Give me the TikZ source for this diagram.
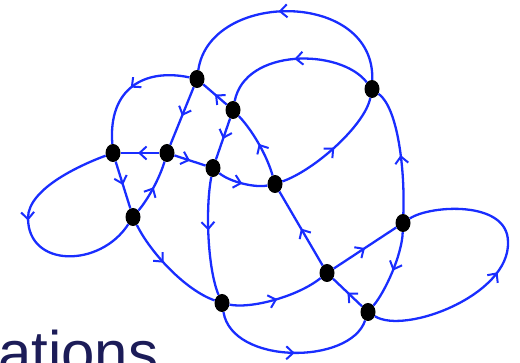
\documentclass[tikz,border=0pt]{standalone}
\usepackage{fontspec}
\newfontfamily\labelfont{Liberation Sans}
\usetikzlibrary{arrows.meta,decorations.markings,shapes.geometric}
\definecolor{wireblue}{RGB}{25,45,255}
\definecolor{textnavy}{RGB}{28,28,88}
\tikzset{
  vtx/.style={ellipse, fill=black, minimum width=15pt, minimum height=18pt, inner sep=0pt},
  bluewire/.style={draw=wireblue, line width=2.3pt},
  midarrow/.style={postaction={decorate}, decoration={markings,
      mark=at position #1 with {\arrow{Straight Barb[length=7pt,width=13pt,line width=2pt]}}}},
  midarrow/.default=0.5
}
\begin{document}
\begin{tikzpicture}[x=1pt,y=-1pt]
\useasboundingbox (0,0) rectangle (520,363);
% text
\node[anchor=base west, inner sep=0pt, text=textnavy, font=\labelfont\fontsize{60}{60}\selectfont] (txt) at (-2,374) {ations};
% vertices
\node[vtx] (A) at (197,79) {};
\node[vtx] (B) at (233,110) {};
\node[vtx] (C) at (372,89) {};
\node[vtx] (D) at (113,153) {};
\node[vtx] (E) at (167,153) {};
\node[vtx] (F) at (213,168) {};
\node[vtx] (G) at (275,184) {};
\node[vtx] (H) at (133,217) {};
\node[vtx] (I) at (403,223) {};
\node[vtx] (J) at (327,273) {};
\node[vtx] (K) at (222,303) {};
\node[vtx] (L) at (368,312) {};
% edges
\draw[bluewire, midarrow=0.55] (C) .. controls (375,-10) and (210,-10) .. (A);
\draw[bluewire, midarrow] (C) .. controls (340,48) and (245,48) .. (B);
\draw[bluewire, midarrow] (B) -- (A);
\draw[bluewire, midarrow] (A) .. controls (145,68) and (108,88) .. (D);
\draw[bluewire, midarrow] (A) -- (E);
\draw[bluewire, midarrow] (B) -- (F);
\draw[bluewire, midarrow] (G) .. controls (267,156) and (253,131) .. (B);
\draw[bluewire, midarrow] (G) .. controls (315,170) and (365,125) .. (C);
\draw[bluewire, midarrow=0.47] (I) .. controls (405,170) and (398,108) .. (C);
\draw[bluewire, midarrow=0.55] (E) -- (D);
\draw[bluewire, midarrow] (E) -- (F);
\draw[bluewire, midarrow] (F) .. controls (230,182) and (255,188) .. (G);
\draw[bluewire, midarrow] (D) -- (H);
\draw[bluewire, midarrow] (H) .. controls (149,198) and (160,177) .. (E);
\draw[bluewire, midarrow=0.45] (D) .. controls (83,164) and (28,188) .. (28,218) .. controls (28,268) and (100,268) .. (H);
\draw[bluewire, midarrow=0.42] (H) .. controls (150,252) and (185,290) .. (K);
\draw[bluewire, midarrow=0.45] (F) .. controls (205,210) and (208,270) .. (K);
\draw[bluewire, midarrow] (J) -- (G);
\draw[bluewire, midarrow] (K) .. controls (250,309) and (297,297) .. (J);
\draw[bluewire, midarrow] (J) -- (I);
\draw[bluewire, midarrow] (I) .. controls (402,255) and (385,292) .. (L);
\draw[bluewire, midarrow] (L) -- (J);
\draw[bluewire, midarrow=0.52] (K) .. controls (232,365) and (350,365) .. (L);
\draw[bluewire, midarrow=0.48] (L) .. controls (405,335) and (510,295) .. (508,242) .. controls (508,200) and (430,205) .. (I);
\end{tikzpicture}
\end{document}
